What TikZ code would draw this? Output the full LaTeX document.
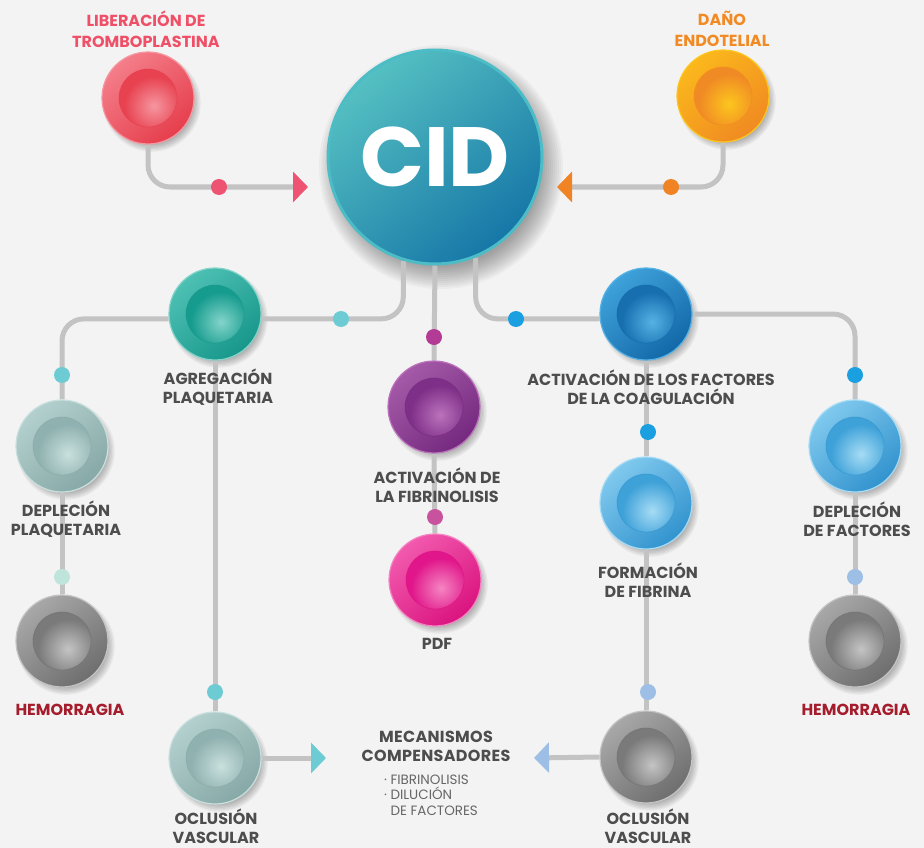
\documentclass[tikz,border=0pt]{standalone}
\usepackage{fontspec}
\setmainfont{Poppins}
\usetikzlibrary{arrows.meta,calc}
\pgfdeclarelayer{back}
\pgfdeclarelayer{lines}
\pgfsetlayers{back,lines,main}
% colours
\definecolor{bgc}{HTML}{F3F3F3}
\definecolor{linec}{HTML}{C3C3C3}
\definecolor{txt}{HTML}{4D4D4D}
\definecolor{txtl}{HTML}{666666}
\definecolor{redT}{HTML}{EF5068}
\definecolor{oraT}{HTML}{F28A24}
\definecolor{hemT}{HTML}{A51D2D}
% red
\definecolor{redA}{HTML}{F47E8A}\definecolor{redB}{HTML}{E63E4C}\definecolor{redC}{HTML}{E8414F}\definecolor{redD}{HTML}{F596A0}
% orange
\definecolor{oraA}{HTML}{FBB81C}\definecolor{oraB}{HTML}{F08A22}\definecolor{oraC}{HTML}{F08A24}\definecolor{oraD}{HTML}{FCC61E}
% teal
\definecolor{teaA}{HTML}{4EC0B4}\definecolor{teaB}{HTML}{17978A}\definecolor{teaC}{HTML}{169C8E}\definecolor{teaD}{HTML}{84D4CA}
% grey teal
\definecolor{gtA}{HTML}{B3D0CE}\definecolor{gtB}{HTML}{86A8A6}\definecolor{gtC}{HTML}{8FB1AF}\definecolor{gtD}{HTML}{C9E0DE}
% grey
\definecolor{grA}{HTML}{A8A8A8}\definecolor{grB}{HTML}{6E6E6E}\definecolor{grC}{HTML}{7A7A7A}\definecolor{grD}{HTML}{C4C4C4}
% purple
\definecolor{puA}{HTML}{A55AA8}\definecolor{puB}{HTML}{74297F}\definecolor{puC}{HTML}{7E2F88}\definecolor{puD}{HTML}{BC72BC}
% pink
\definecolor{piA}{HTML}{F25AAE}\definecolor{piB}{HTML}{DA137F}\definecolor{piC}{HTML}{E0168A}\definecolor{piD}{HTML}{F585C2}
% dark blue
\definecolor{blA}{HTML}{3FA2DA}\definecolor{blB}{HTML}{1368A8}\definecolor{blC}{HTML}{176FB0}\definecolor{blD}{HTML}{55B2E4}
% light blue
\definecolor{lbA}{HTML}{80C9EE}\definecolor{lbB}{HTML}{3293CE}\definecolor{lbC}{HTML}{3EA1D8}\definecolor{lbD}{HTML}{A6DCF5}
% dots
\definecolor{dRed}{HTML}{EE5472}
\definecolor{dOra}{HTML}{F08424}
\definecolor{dTea}{HTML}{6CCBD3}
\definecolor{dMint}{HTML}{BFE4DC}
\definecolor{dMag}{HTML}{B33A95}
\definecolor{dPink}{HTML}{C9529F}
\definecolor{dBlue}{HTML}{1AA0E0}
\definecolor{dLb}{HTML}{9DBFE6}
\definecolor{cidA}{HTML}{55C0C2}\definecolor{cidB}{HTML}{1677A7}\definecolor{cidR}{HTML}{4CBCC6}

\tikzset{
  cell/.style n args={4}{circle, minimum size=92pt, inner sep=0pt,
    top color=#1, bottom color=#2, shading angle=40,
    draw=#4, line width=1.2pt,
    path picture={
      \begin{scope}
        \clip (path picture bounding box.center) circle (29pt);
        \fill[#3] (path picture bounding box.center) circle (29pt);
        \shade[inner color=#4, outer color=#3] ($(path picture bounding box.center)+(6pt,-8pt)$) circle (30pt);
      \end{scope}
      \draw[#2, opacity=.5, line width=.8pt] (path picture bounding box.center) circle (29pt);
    }},
  conn/.style={draw=linec, line width=5pt, rounded corners=22pt},
  tip/.style={-{Triangle[length=15pt,width=30pt,color=#1]}},
  dot/.style={circle, minimum size=16pt, inner sep=0pt, fill=#1},
  lab/.style={font=\fontsize{16}{19}\selectfont\bfseries, text=txt, align=center, inner sep=0pt},
  softshadow/.style={black, opacity=0.045},
}

\begin{document}
\begin{tikzpicture}[x=1pt,y=-1pt]
\begin{pgfonlayer}{back}
  \fill[bgc] (0,0) rectangle (924,848);
\end{pgfonlayer}
\path[use as bounding box] (0,0) rectangle (924,848);

% main node
\node[circle, minimum size=214pt, inner sep=0pt, top color=cidA, bottom color=cidB, shading angle=40,
      draw=cidR, line width=3pt,
      text=white, font=\fontsize{84}{84}\selectfont\bfseries] (cid) at (435,157) {CID};

% cells
\node[cell={redA}{redB}{redC}{redD}] (lib) at (148,98) {};
\node[cell={oraA}{oraB}{oraC}{oraD}] (dano) at (723,96) {};
\node[cell={teaA}{teaB}{teaC}{teaD}] (agg) at (215,314) {};
\node[cell={puA}{puB}{puC}{puD}] (fib) at (434,407) {};
\node[cell={blA}{blB}{blC}{blD}] (actf) at (646,314) {};
\node[cell={gtA}{gtB}{gtC}{gtD}] (depP) at (62,446) {};
\node[cell={grA}{grB}{grC}{grD}] (hemL) at (62,641) {};
\node[cell={piA}{piB}{piC}{piD}] (pdf) at (435,580) {};
\node[cell={lbA}{lbB}{lbC}{lbD}] (form) at (646,503) {};
\node[cell={lbA}{lbB}{lbC}{lbD}] (depF) at (855,446) {};
\node[cell={grA}{grB}{grC}{grD}] (hemR) at (855,641) {};
\node[cell={gtA}{gtB}{gtC}{gtD}] (oclL) at (215,758) {};
\node[cell={grA}{grB}{grC}{grD}] (oclR) at (646,757) {};

% soft shadows
\begin{pgfonlayer}{back}
  \foreach \k in {0,...,11}{
    \fill[softshadow, opacity=0.03] ($(cid.center)+(6pt,-10pt)$) circle ({100+2*\k});
  }
  \foreach \n in {lib,dano,agg,fib,actf,depP,hemL,pdf,form,depF,hemR,oclL,oclR}{
    \foreach \k in {0,...,6}{
      \fill[softshadow] ($(\n.center)+(4pt,-5pt)$) circle ({41+1.3*\k});
    }
  }
\end{pgfonlayer}

% free ends of arrows
\coordinate (aL) at (308,187);
\coordinate (aR) at (557,187);
\coordinate (aML) at (326,758);
\coordinate (aMR) at (534,758);

% connectors
\begin{pgfonlayer}{lines}
  \draw[conn, tip=dRed] (lib.south) |- (aL);
  \draw[conn, tip=dOra] (dano.south) |- (aR);
  \draw[conn] (cid.-107) |- (agg.-6);
  \draw[conn] (cid.south) -- (fib.north);
  \draw[conn] (cid.-68) |- (actf.186);
  \draw[conn] (agg.186) -| (depP.north);
  \draw[conn] (actf.east) -| (depF.north);
  \draw[conn] (depP.south) -- (hemL.north);
  \draw[conn] (depF.south) -- (hemR.north);
  \draw[conn] (agg.south) -- (oclL.north);
  \draw[conn] (fib.south) -- (pdf.north);
  \draw[conn] (actf.south) -- (form.north);
  \draw[conn] (form.south) -- (oclR.north);
  \draw[conn, rounded corners=0pt, tip=dTea] (oclL.east) -- (aML);
  \draw[conn, rounded corners=0pt, tip=dLb] (oclR.west) -- (aMR);
\end{pgfonlayer}

% dots
\node[dot=dRed] (p1) at (219,187) {};
\node[dot=dOra] (p2) at (671,187) {};
\node[dot=dTea] (p3) at (341,319) {};
\node[dot=dMag] (p4) at (434,337) {};
\node[dot=dBlue] (p5) at (516,319) {};
\node[dot=dTea] (p6) at (62,375) {};
\node[dot=dMint] (p7) at (62,577) {};
\node[dot=dPink] (p8) at (435,517) {};
\node[dot=dBlue] (p9) at (648,432) {};
\node[dot=dBlue] (p10) at (855,375) {};
\node[dot=dLb] (p11) at (855,577) {};
\node[dot=dTea] (p12) at (215,692) {};
\node[dot=dLb] (p13) at (648,692) {};

% labels
\node[lab, text=redT, font=\fontsize{16}{21}\selectfont\bfseries] (tLib) at (146,29) {LIBERACIÓN DE\\TROMBOPLASTINA};
\node[lab, text=oraT, font=\fontsize{16}{21}\selectfont\bfseries] (tDano) at (722,29) {DAÑO\\ENDOTELIAL};
\node[lab] (tAgg) at (218,387) {AGREGACIÓN\\PLAQUETARIA};
\node[lab] (tAct) at (651,387) {ACTIVACIÓN DE LOS FACTORES\\DE LA COAGULACIÓN};
\node[lab] (tDepP) at (66,519) {DEPLECIÓN\\PLAQUETARIA};
\node[lab] (tDepF) at (857,519) {DEPLECIÓN\\DE FACTORES};
\node[lab] (tFib) at (437,485) {ACTIVACIÓN DE\\LA FIBRINOLISIS};
\node[lab] (tForm) at (648,580) {FORMACIÓN\\DE FIBRINA};
\node[lab] (tPdf) at (437,644) {PDF};
\node[lab, text=hemT] (tHemL) at (70,710) {HEMORRAGIA};
\node[lab, text=hemT] (tHemR) at (856,710) {HEMORRAGIA};
\node[lab] (tOclL) at (216,826) {OCLUSIÓN\\VASCULAR};
\node[lab] (tOclR) at (648,826) {OCLUSIÓN\\VASCULAR};
\node[lab, font=\fontsize{16}{19}\selectfont\bfseries\addfontfeature{LetterSpace=2}] (tMec) at (436,746) {MECANISMOS\\COMPENSADORES};
\node[inner sep=0pt, align=left, text=txtl, font=\fontsize{13.5}{15.5}\selectfont] (tBul) at (431,795)
  {· FIBRINOLISIS\\· DILUCIÓN\\\phantom{· }DE FACTORES};
\end{tikzpicture}
\end{document}
